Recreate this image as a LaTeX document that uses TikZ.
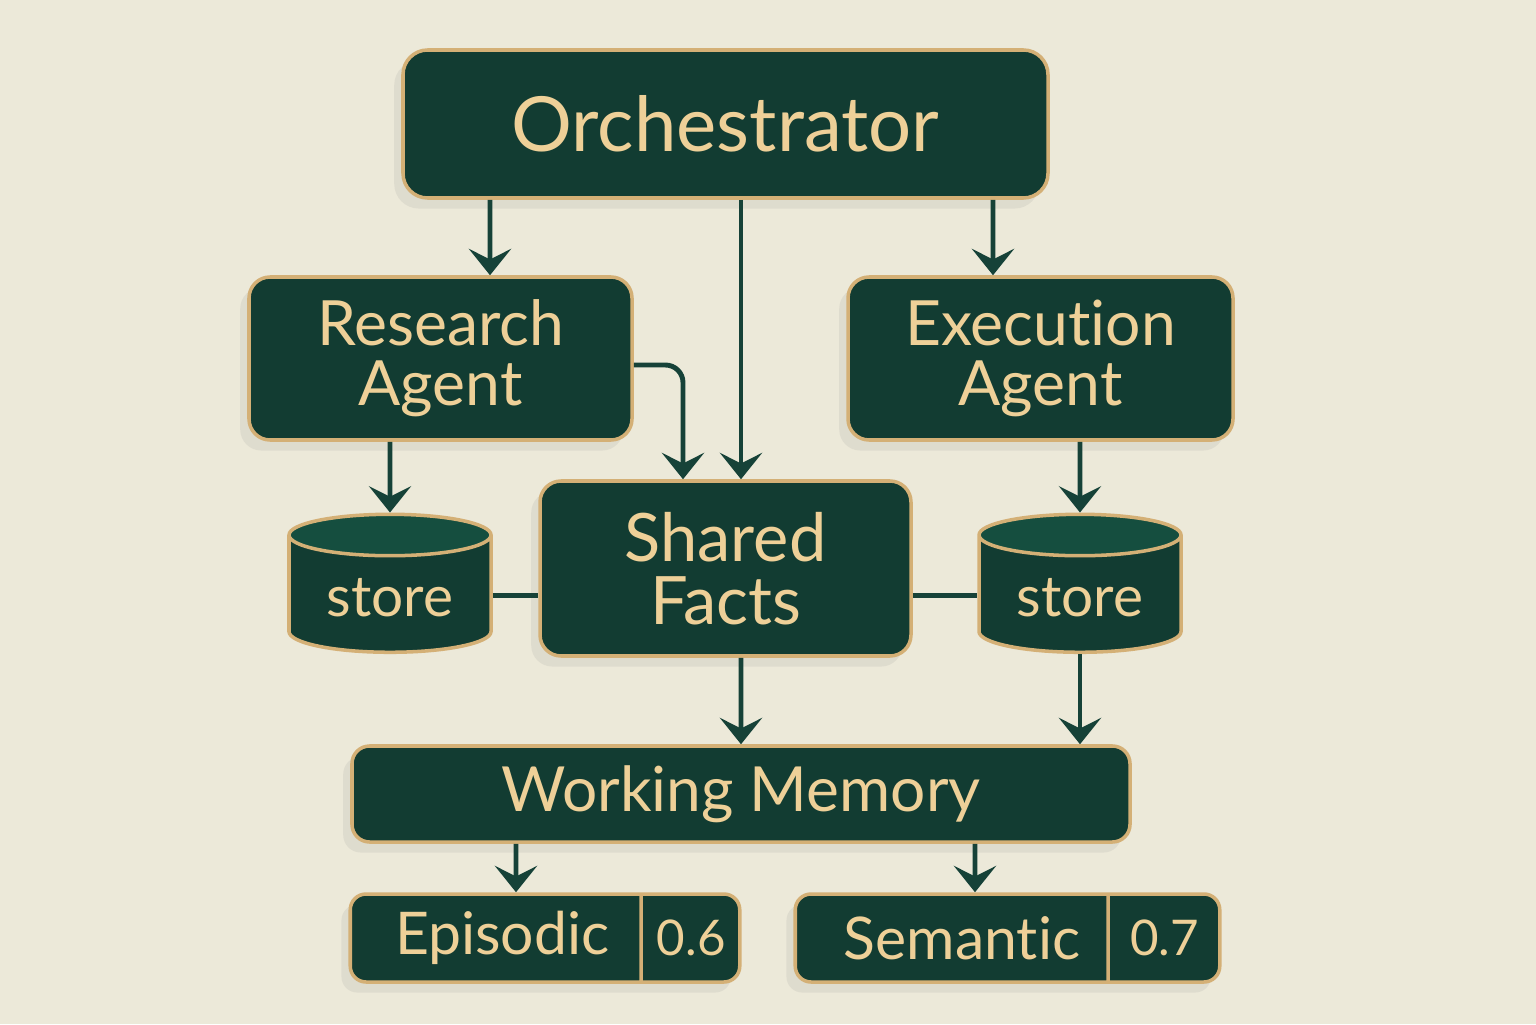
\documentclass[tikz,border=0pt]{standalone}
\usepackage{fontspec}
\setmainfont{Lato}[Ligatures={NoCommon,NoContextual}]
\usepackage{xcolor}
\usetikzlibrary{shapes,arrows.meta,positioning,shadows}

\definecolor{cream}{RGB}{236,233,217}
\definecolor{pine}{RGB}{18,60,50}
\definecolor{pinetop}{RGB}{21,78,63}
\definecolor{gold}{RGB}{212,176,118}
\definecolor{goldtext}{RGB}{238,208,152}
\definecolor{wire}{RGB}{22,66,56}

\begin{document}
\begin{tikzpicture}[node distance=1.5cm,
    panel/.style={draw=gold, line width=2pt, fill=pine, rounded corners=12pt, text=goldtext, align=center,
        drop shadow={shadow xshift=-5pt, shadow yshift=-6pt, opacity=0.12}},
    tank/.style={cylinder, shape border rotate=90, aspect=0.3, draw=gold, line width=2pt,
        cylinder uses custom fill, cylinder body fill=pine, cylinder end fill=pinetop, text=goldtext,
        minimum width=4.04cm, minimum height=2.76cm, font=\fontsize{32.3}{32}\selectfont},
    score/.style={panel, rounded corners=9pt, rectangle split, rectangle split horizontal, rectangle split parts=2,
        inner xsep=0.2cm, minimum height=1.76cm, font=\fontsize{33.5}{33}\selectfont},
    flow/.style={draw=wire, line width=2.8pt, -{Stealth[length=15pt,width=24pt,inset=6pt]}},
    link/.style={draw=wire, line width=2.8pt}]
        % Background
        \fill[cream] (0,0) rectangle (30.72,20.48);

        % Orchestrator
        \node [panel, minimum width=12.9cm, minimum height=2.96cm, rounded corners=14pt, font=\fontsize{43.3}{43}\selectfont] (orch) at (14.51,18.0) {Orchestrator};

        % Agents
        \node [panel, minimum width=7.66cm, minimum height=3.26cm, font=\fontsize{35.5}{34}\selectfont] (research) at (8.81,13.31) {Research\\Agent};
        \node [panel, minimum width=7.7cm, minimum height=3.26cm, font=\fontsize{35.5}{34}\selectfont] (execution) at (20.81,13.31) {Execution\\Agent};

        % Shared Facts
        \node [panel, minimum width=7.42cm, minimum height=3.5cm, font=\fontsize{38}{36}\selectfont] (facts) at (14.51,9.11) {Shared\\Facts};

        % Stores
        \node [tank] (lstore) at (7.8,8.52) {store};
        \node [tank] (rstore) at (21.6,8.52) {store};

        % Working Memory
        \node [panel, minimum width=15.56cm, minimum height=1.92cm, rounded corners=10pt, font=\fontsize{35.4}{35}\selectfont] (memory) at (14.82,4.6) {Working Memory};

        % Episodic / Semantic
        \node [score] (episodic) at (10.9,1.72) {\makebox[5.38cm]{\hspace{0.3cm}Episodic}\nodepart{two}\makebox[1.54cm]{\fontsize{28}{28}\selectfont 0.6}};
        \node [score] (semantic) at (20.15,1.72) {\makebox[5.82cm]{\hspace{0.45cm}Semantic}\nodepart{two}\makebox[1.8cm]{\fontsize{28}{28}\selectfont 0.7}};

        % Connectors
        \draw [flow] ([xshift=-4.71cm]orch.south) -- ([xshift=0.99cm]research.north);
        \draw [flow] ([xshift=5.35cm]orch.south) -- ([xshift=-0.95cm]execution.north);
        \draw [flow] ([xshift=0.31cm]orch.south) -- ([xshift=0.31cm]facts.north);
        \draw [flow, rounded corners=10pt] ([yshift=-0.13cm]research.east) -| ([xshift=-0.85cm]facts.north);
        \draw [flow] ([xshift=-1.01cm]research.south) -- (lstore.north);
        \draw [flow] ([xshift=0.79cm]execution.south) -- (rstore.north);
        \draw [link] ([yshift=0.05cm]lstore.east) -- ([yshift=0.05cm]lstore.east -| facts.west);
        \draw [link] ([yshift=0.05cm]facts.east |- rstore.west) -- ([yshift=0.05cm]rstore.west);
        \draw [flow] ([xshift=0.31cm]facts.south) -- (memory.north);
        \draw [flow] (rstore.south) -- (rstore.south |- memory.north);
        \draw [flow] ([xshift=-4.5cm]memory.south) -- ([xshift=-0.58cm]episodic.north);
        \draw [flow] ([xshift=4.68cm]memory.south) -- ([xshift=-0.65cm]semantic.north);
    \end{tikzpicture}
\end{document}
